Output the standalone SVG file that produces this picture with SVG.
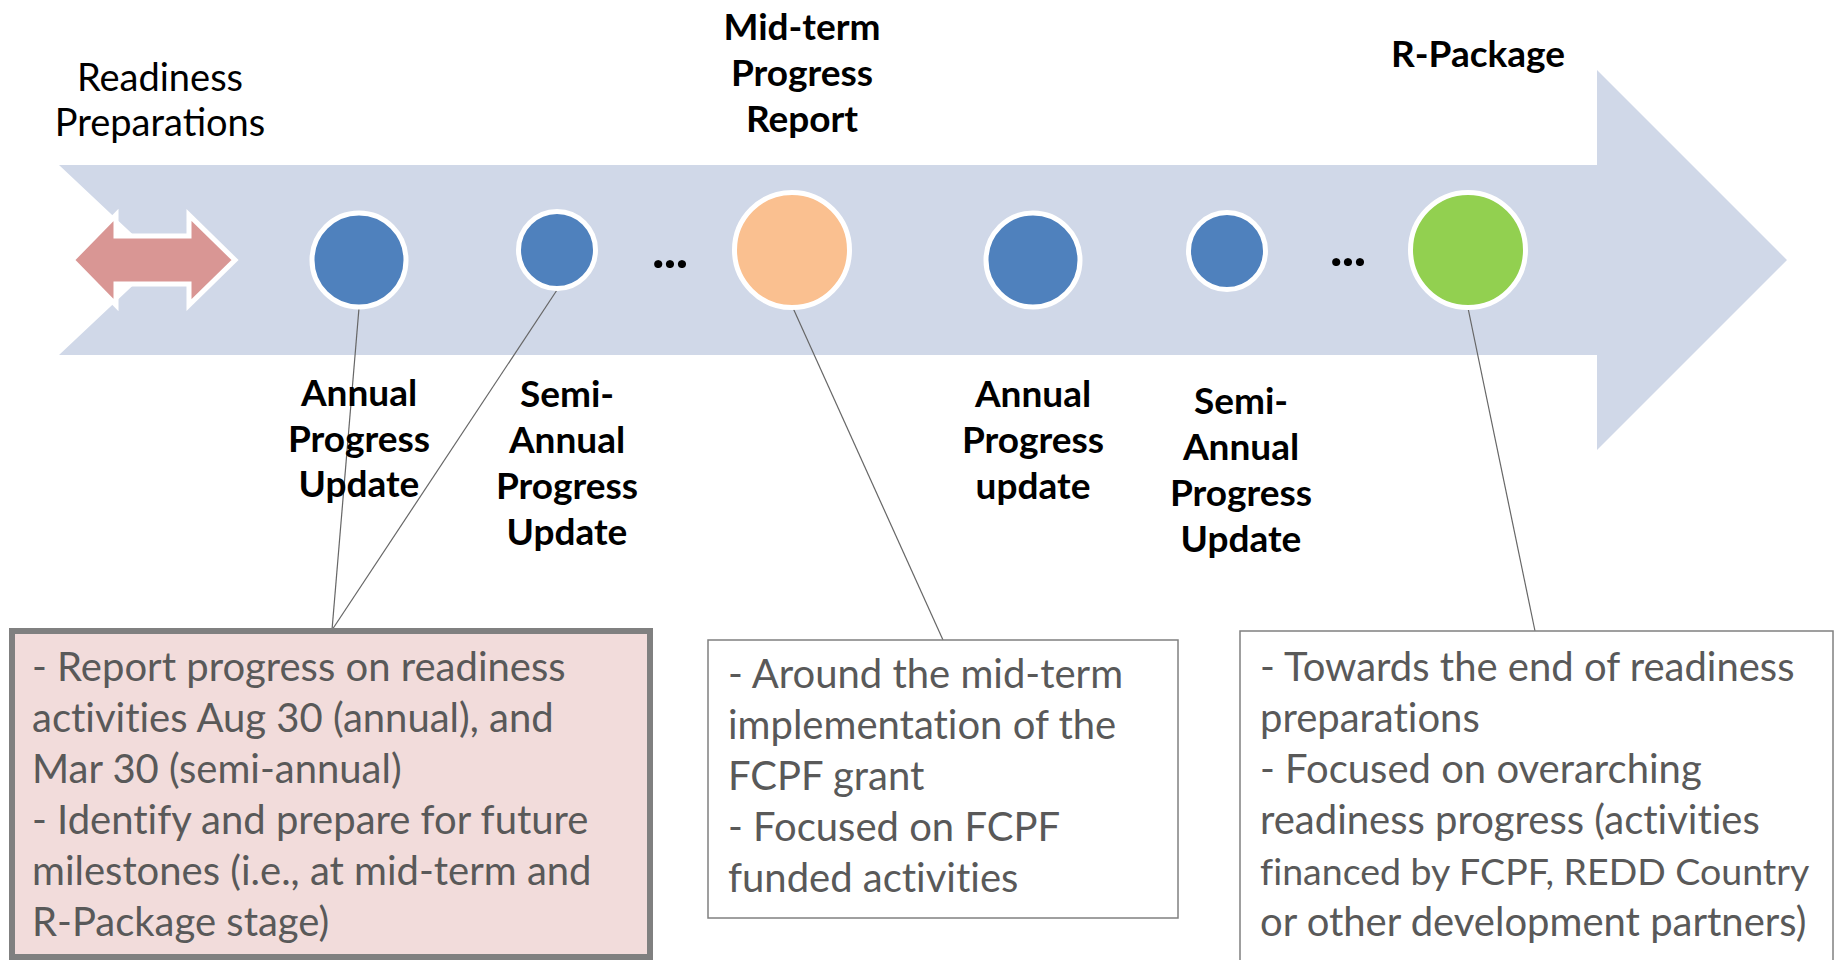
<svg xmlns="http://www.w3.org/2000/svg" width="1837" height="960" viewBox="0 0 1837 960">
<style>
.lbl{font-family:Lato,"Liberation Sans",sans-serif;font-weight:bold;font-size:37px;fill:#000;text-anchor:middle}
.ell{font-family:Lato,"Liberation Sans",sans-serif;font-weight:900;font-size:50px;fill:#000;text-anchor:middle}
.reg{font-family:Lato,"Liberation Sans",sans-serif;font-size:38px;fill:#000;text-anchor:middle}
.body{font-family:Lato,"Liberation Sans",sans-serif;font-size:40px;fill:#595959;font-variant-ligatures:none}
.dot{stroke:#fff;stroke-width:5}
.blue{fill:#4F81BD}
.conn{stroke:#666;stroke-width:1.2;fill:none}
</style>
<rect width="1837" height="960" fill="#fff"/>
<g id="timeline">
<polygon points="59,165 1597,165 1597,70 1787,260 1597,450 1597,355 59,355 160,260" fill="#D0D8E8"/>
</g>
<g id="readiness-arrow">
<polygon points="72,260 116,215 116,236 189,236 189,215 235,260 189,305 189,284 116,284 116,305" fill="#D99694" stroke="#fff" stroke-width="5"/>
</g>
<g id="readiness-label">
<text class="reg" x="160" y="91">Readiness</text>
<text class="reg" x="160" y="136">Preparations</text>
</g>
<g id="connectors">
<line class="conn" x1="359" y1="308" x2="332" y2="630"/>
<line class="conn" x1="557" y1="290" x2="332" y2="630"/>
<line class="conn" x1="793" y1="308" x2="943" y2="640"/>
<line class="conn" x1="1468" y1="308" x2="1535" y2="631"/>
</g>
<g id="annual1">
<circle class="dot blue" cx="359" cy="260" r="47"/>
<text class="lbl" x="359" y="406">Annual</text>
<text class="lbl" x="359" y="452">Progress</text>
<text class="lbl" x="359" y="497">Update</text>
</g>
<g id="semi1">
<circle class="dot blue" cx="557" cy="250" r="38.5"/>
<text class="lbl" x="567" y="407">Semi-</text>
<text class="lbl" x="567" y="453">Annual</text>
<text class="lbl" x="567" y="499">Progress</text>
<text class="lbl" x="567" y="545">Update</text>
</g>
<g id="ellipsis1"><text class="ell" x="670" y="268">...</text></g>
<g id="midterm">
<circle class="dot" cx="792" cy="250" r="57.5" fill="#FAC090"/>
<text class="lbl" x="802" y="40">Mid-term</text>
<text class="lbl" x="802" y="86">Progress</text>
<text class="lbl" x="802" y="132">Report</text>
</g>
<g id="annual2">
<circle class="dot blue" cx="1033" cy="260" r="47"/>
<text class="lbl" x="1033" y="407">Annual</text>
<text class="lbl" x="1033" y="453">Progress</text>
<text class="lbl" x="1033" y="499">update</text>
</g>
<g id="semi2">
<circle class="dot blue" cx="1227" cy="251" r="38.5"/>
<text class="lbl" x="1241" y="414">Semi-</text>
<text class="lbl" x="1241" y="460">Annual</text>
<text class="lbl" x="1241" y="506">Progress</text>
<text class="lbl" x="1241" y="552">Update</text>
</g>
<g id="ellipsis2"><text class="ell" x="1348" y="266">...</text></g>
<g id="rpackage">
<circle class="dot" cx="1468" cy="250" r="57.5" fill="#92D050"/>
<text class="lbl" x="1478" y="67">R-Package</text>
</g>
<g id="box-updates">
<rect x="12" y="631" width="638" height="326" fill="#F2DCDB" stroke="#808080" stroke-width="6"/>
<text class="body" x="32" y="681">- Report progress on readiness</text>
<text class="body" x="32" y="732">activities Aug 30 (annual), and</text>
<text class="body" x="32" y="783">Mar 30 (semi-annual)</text>
<text class="body" x="32" y="834">- Identify and prepare for future</text>
<text class="body" x="32" y="885">milestones (i.e., at mid-term and</text>
<text class="body" x="32" y="936">R-Package stage)</text>
</g>
<g id="box-midterm">
<rect x="708" y="640" width="470" height="278" fill="#fff" stroke="#808080" stroke-width="1.5"/>
<text class="body" x="728" y="688">- Around the mid-term</text>
<text class="body" x="728" y="739">implementation of the</text>
<text class="body" x="728" y="790">FCPF grant</text>
<text class="body" x="728" y="841">- Focused on FCPF</text>
<text class="body" x="728" y="892">funded activities</text>
</g>
<g id="box-rpackage">
<rect x="1240" y="631" width="593" height="340" fill="#fff" stroke="#808080" stroke-width="1.5"/>
<text class="body" x="1260" y="681">- Towards the end of readiness</text>
<text class="body" x="1260" y="732">preparations</text>
<text class="body" x="1260" y="783">- Focused on overarching</text>
<text class="body" x="1260" y="834">readiness progress (activities</text>
<text class="body" x="1260" y="885" style="font-size:37.5px">financed by FCPF, REDD Country</text>
<text class="body" x="1260" y="936">or other development partners)</text>
</g>
</svg>
